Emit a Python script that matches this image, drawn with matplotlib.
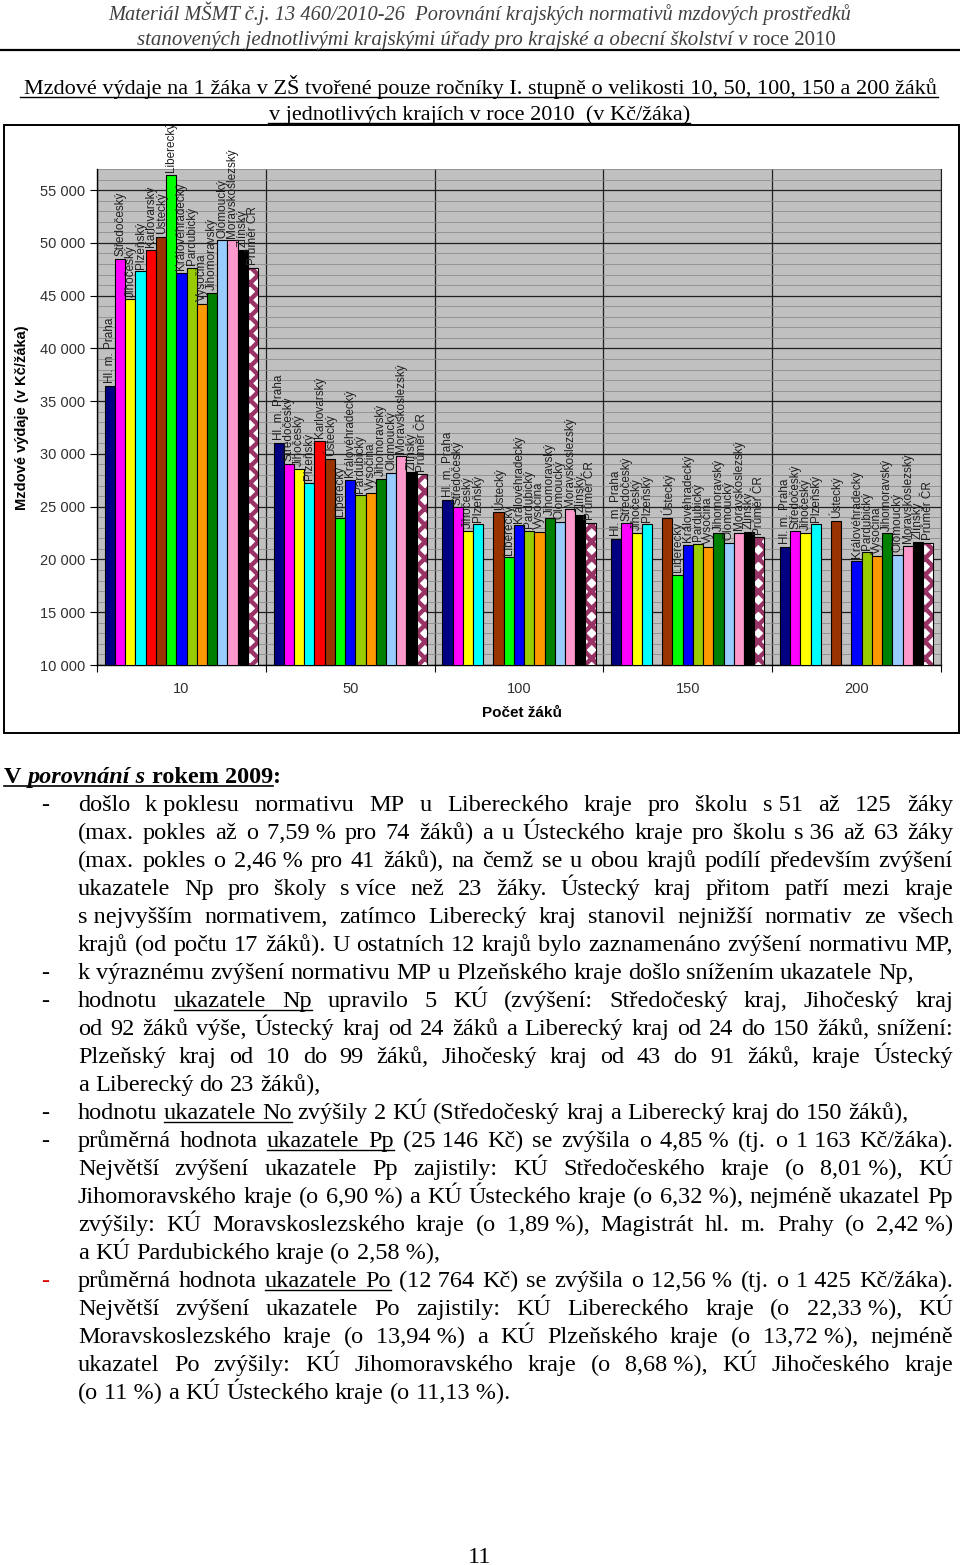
import matplotlib
matplotlib.use('Agg')
import matplotlib.pyplot as plt
from matplotlib.patches import Rectangle
from matplotlib.lines import Line2D
from matplotlib.ticker import FuncFormatter, MultipleLocator

### DATA
velikosti = ['10', '50', '100', '150', '200']
kraje = ['Hl. m. Praha', 'Středočeský', 'Jihočeský', 'Plzeňský', 'Karlovarský', 'Ústecký',
         'Liberecký', 'Královéhradecký', 'Pardubický', 'Vysočina', 'Jihomoravský',
         'Olomoucký', 'Moravskoslezský', 'Zlínský', 'Průměr ČR']
barvy = ['#000080', '#FF00FF', '#FFFF00', '#00FFFF', '#FF0000', '#993300', '#00FF00',
         '#0000FF', '#99CC00', '#FF9900', '#008000', '#99CCFF', '#FF99CC', '#000000', '#993366']

praha = [36450, 31070, 25640, 21970, 21210]
stredocesky = [48500, 29080, 24950, 23430, 22670]
jihocesky = [44650, 28600, 22700, 22540, 22540]
plzensky = [47300, 27280, 23330, 23330, 23330]
karlovarsky = [49350, 31260, None, None, None]
ustecky = [50600, 29520, 24470, 23930, 23650]
liberecky = [56450, 23900, 20200, 18530, None]
kralovehradecky = [47150, 27530, 23240, 21370, 19890]
pardubicky = [47650, 26080, 22700, 21500, 20680]
vysocina = [44250, 26330, 22640, 21210, 20300]
jihomoravsky = [45250, 27630, 23930, 22480, 22480]
olomoucky = [50250, 28230, 23580, 21590, 20420]
moravskoslezsky = [50250, 29840, 24750, 22540, 21280]
zlinsky = [49350, 28260, 24220, 22640, 21690]
prumer = [47650, 28070, 23490, 22100, 21590]

hodnoty = [praha, stredocesky, jihocesky, plzensky, karlovarsky, ustecky, liberecky,
           kralovehradecky, pardubicky, vysocina, jihomoravsky, olomoucky,
           moravskoslezsky, zlinsky, prumer]

### FIGURE
W, H = 960, 1565
SANS = 'Liberation Sans'
SERIF = 'Liberation Serif'
plt.rcParams['hatch.linewidth'] = 3.2

fig = plt.figure(figsize=(W / 100, H / 100), dpi=100)
fig.patch.set_facecolor('white')
r = fig.canvas.get_renderer()


def fx(x):
    return x / W


def fy(y):
    return 1 - y / H


def hline(x0, x1, y, lw=1.0, color='black'):
    fig.add_artist(Line2D([fx(x0), fx(x1)], [fy(y), fy(y)], lw=lw, color=color,
                          transform=fig.transFigure))


def width_of(t):
    return t.get_window_extent(r).width


def fit_text(x, y, s, width, ha='left', **kw):
    t = fig.text(fx(x), fy(y), s, ha=ha, va='baseline', **kw)
    w = width_of(t)
    t.set_fontsize(t.get_fontsize() * width / w)
    return t


### HEADER
fit_text(480, 20, 'Materiál MŠMT č.j. 13 460/2010-26  Porovnání krajských normativů mzdových prostředků',
         743, ha='center', family=SERIF, style='italic', color='#404040', fontsize=14)
h2 = fit_text(137, 45, 'stanovených jednotlivými krajskými úřady pro krajské a obecní školství v',
              610, family=SERIF, style='italic', color='#404040', fontsize=14)
fig.text(fx(753), fy(45), 'roce 2010', family=SERIF, color='#404040',
         fontsize=h2.get_fontsize(), va='baseline')
hline(0, 960, 50, lw=1.6)

### CHART TITLE
fit_text(480, 94, 'Mzdové výdaje na 1 žáka v ZŠ tvořené pouze ročníky I. stupně o velikosti 10, 50, 100, 150 a 200 žáků',
         918, ha='center', family=SERIF, fontsize=15)
hline(20, 938, 97, lw=1.0)
fit_text(480, 120, 'v jednotlivých krajích v roce 2010  (v Kč/žáka)',
         423, ha='center', family=SERIF, fontsize=15)
hline(268, 690, 123, lw=1.0)

fig.add_artist(Rectangle((fx(4), fy(733)), fx(955), (733 - 125) / H, fill=False,
                         lw=1.4, edgecolor='black', transform=fig.transFigure))

### CHART
ax = fig.add_axes([fx(97), fy(665), (941 - 97) / W, (665 - 169) / H])
ax.set_facecolor('#C0C0C0')
ax.set_xlim(-0.5, 4.5)
ax.set_ylim(10000, 57000)

n = len(kraje)
sirka = 0.907 / n
for i, (kraj, barva, vals) in enumerate(zip(kraje, barvy, hodnoty)):
    for g, v in enumerate(vals):
        if v is None:
            continue
        x = g - 0.907 / 2 + (i + 0.5) * sirka
        if kraj == 'Průměr ČR':
            ax.bar(x, v - 10000, sirka, bottom=10000, color='white', edgecolor=barva,
                   hatch='xx', lw=0, zorder=3)
            ax.bar(x, v - 10000, sirka, bottom=10000, fill=False, edgecolor='black',
                   lw=0.8, zorder=4)
        else:
            ax.bar(x, v - 10000, sirka, bottom=10000, color=barva, edgecolor='black',
                   lw=0.8, zorder=3)
        ax.text(x, v + 250, kraj, rotation=90, ha='center', va='bottom', fontsize=8.5,
                family=SANS, color='#202020', clip_on=False, zorder=5)

ax.yaxis.set_major_locator(MultipleLocator(5000))
ax.yaxis.set_minor_locator(MultipleLocator(1000))
ax.yaxis.set_major_formatter(FuncFormatter(lambda v, p: f'{int(v):,}'.replace(',', ' ')
                                           if v <= 55000 else ''))
ax.grid(axis='y', which='minor', color='#8C8C8C', lw=0.6, zorder=1)
ax.grid(axis='y', which='major', color='#202020', lw=0.9, zorder=2)
ax.set_xticks([-0.5, 0.5, 1.5, 2.5, 3.5, 4.5])
ax.set_xticklabels([])
ax.set_xticks(range(5), minor=True)
ax.set_xticklabels(velikosti, minor=True)
ax.grid(axis='x', which='major', color='#202020', lw=0.9, zorder=2)
ax.tick_params(axis='x', which='minor', length=0, pad=12, labelsize=10.5, labelcolor='#303030')
ax.tick_params(axis='x', which='major', length=5, direction='out')
ax.tick_params(axis='y', which='major', length=5, direction='out', labelsize=10.5,
               labelcolor='#303030')
ax.tick_params(axis='y', which='minor', length=0)
for lab in ax.get_xticklabels(minor=True) + ax.get_yticklabels():
    lab.set_family(SANS)
ax.spines['top'].set_visible(False)
ax.spines['right'].set_color('#202020')
ax.spines['left'].set_linewidth(1.0)
ax.spines['bottom'].set_linewidth(1.0)
ax.set_axisbelow(True)

fig.text(fx(22), fy(418), 'Mzdové výdaje (v Kč/žáka)', rotation=90, ha='center', va='center',
         fontweight='bold', family=SANS, fontsize=10.5)
fig.text(fx(522), fy(713), 'Počet žáků', ha='center', va='center', fontweight='bold',
         family=SANS, fontsize=11)

### TEXT BELOW
SIZE = 17.5
X0, X1 = 78, 953


def draw_words(yc, line, justify):
    base = yc + 8
    words = []
    for tok in line.split(' '):
        if not tok:
            continue
        ul = tok.startswith('_')
        s = tok.lstrip('_').replace('~', ' ')
        t = fig.text(fx(X0), fy(base), s, family=SERIF, fontsize=SIZE, va='baseline')
        words.append([t, width_of(t), ul])
    total = sum(w[1] for w in words)
    if justify and len(words) > 1:
        gap = (X1 - X0 - total) / (len(words) - 1)
    else:
        gap = SIZE * 100 / 72 * 0.25
    x = X0
    run = None
    for t, w, ul in words:
        t.set_x(fx(x))
        if ul:
            run = [x if run is None else run[0], x + w]
        elif run is not None:
            hline(run[0], run[1], base + 3, lw=1.0)
            run = None
        x += w + gap
    if run is not None:
        hline(run[0], run[1], base + 3, lw=1.0)


# heading
hb = 783
x = 4
for s, st in [('V', 'normal'), ('porovnání s', 'italic'), ('rokem 2009', 'normal')]:
    t = fig.text(fx(x), fy(hb), s, family=SERIF, fontsize=SIZE, fontweight='bold',
                 style=st, va='baseline')
    x += width_of(t) + SIZE * 100 / 72 * 0.25
x -= SIZE * 100 / 72 * 0.25
hline(4, x, hb + 3, lw=1.2)
fig.text(fx(x), fy(hb), ':', family=SERIF, fontsize=SIZE, fontweight='bold', va='baseline')

radky = [
    (803, '-', 'došlo k~poklesu normativu MP u Libereckého kraje pro školu s~51 až 125 žáky', True),
    (831, '', '(max. pokles až o 7,59~% pro 74 žáků) a u Ústeckého kraje pro školu s~36 až 63 žáky', True),
    (859, '', '(max. pokles o 2,46~% pro 41 žáků), na čemž se u obou krajů podílí především zvýšení', True),
    (887, '', 'ukazatele Np pro školy s~více než 23 žáky. Ústecký kraj přitom patří mezi kraje', True),
    (915, '', 's~nejvyšším normativem, zatímco Liberecký kraj  stanovil nejnižší normativ ze všech', True),
    (943, '', 'krajů (od počtu 17 žáků). U ostatních 12 krajů bylo zaznamenáno zvýšení normativu MP,', True),
    (971, '-', 'k výraznému zvýšení normativu MP u Plzeňského kraje došlo snížením ukazatele Np,', False),
    (999, '-', 'hodnotu _ukazatele _Np upravilo 5 KÚ (zvýšení: Středočeský kraj, Jihočeský kraj', True),
    (1027, '', 'od 92 žáků výše, Ústecký kraj od 24 žáků a Liberecký kraj od 24 do 150 žáků, snížení:', True),
    (1055, '', 'Plzeňský kraj od 10 do 99 žáků, Jihočeský kraj od 43 do 91 žáků, kraje Ústecký', True),
    (1083, '', 'a Liberecký do 23 žáků),', False),
    (1111, '-', 'hodnotu _ukazatele _No zvýšily 2 KÚ (Středočeský kraj a Liberecký kraj do 150 žáků),', False),
    (1139, '-', 'průměrná hodnota _ukazatele _Pp (25~146 Kč) se zvýšila o 4,85~% (tj. o 1~163 Kč/žáka).', True),
    (1167, '', 'Největší zvýšení ukazatele Pp zajistily: KÚ Středočeského kraje (o 8,01~%), KÚ', True),
    (1195, '', 'Jihomoravského kraje (o 6,90~%) a KÚ Ústeckého kraje (o 6,32~%), nejméně ukazatel Pp', True),
    (1223, '', 'zvýšily: KÚ Moravskoslezského kraje (o 1,89~%), Magistrát hl. m. Prahy (o 2,42~%)', True),
    (1251, '', 'a KÚ Pardubického kraje (o 2,58~%),', False),
    (1279, 'r', 'průměrná hodnota _ukazatele _Po (12~764 Kč) se zvýšila o 12,56~% (tj. o 1~425 Kč/žáka).', True),
    (1307, '', 'Největší zvýšení ukazatele Po zajistily: KÚ Libereckého kraje (o 22,33~%), KÚ', True),
    (1335, '', 'Moravskoslezského kraje (o 13,94~%) a KÚ Plzeňského kraje (o 13,72~%), nejméně', True),
    (1363, '', 'ukazatel Po zvýšily: KÚ Jihomoravského kraje (o 8,68~%), KÚ Jihočeského kraje', True),
    (1391, '', '(o 11~%) a KÚ Ústeckého kraje (o 11,13~%).', False),
]

for yc, dash, line, just in radky:
    if dash:
        fig.text(fx(41), fy(yc + 8), '-', family=SERIF, fontsize=SIZE, va='baseline',
                 color='#E00000' if dash == 'r' else 'black')
    draw_words(yc, line, just)

fig.text(fx(480), fy(1563), '11', family=SERIF, fontsize=SIZE, ha='center', va='baseline')

fig.savefig('out.png', dpi=100)
